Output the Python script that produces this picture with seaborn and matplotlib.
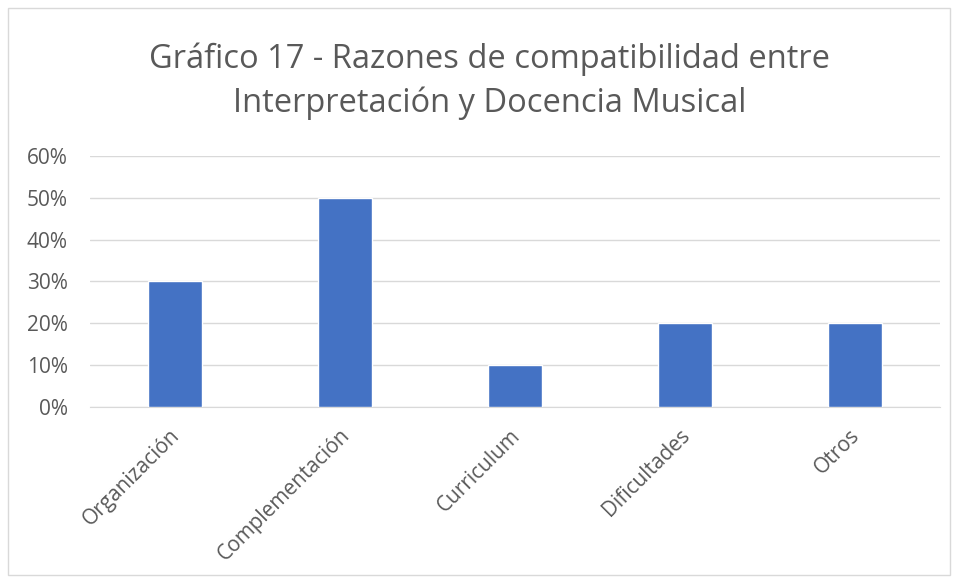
import matplotlib
matplotlib.use("Agg")
import matplotlib.pyplot as plt
import matplotlib.transforms as mtransforms
import seaborn as sns
import pandas as pd
from matplotlib.patches import Rectangle
from matplotlib.ticker import PercentFormatter

categorias = ["Organización", "Complementación", "Curriculum", "Dificultades", "Otros"]
porcentajes = [0.30, 0.50, 0.10, 0.20, 0.20]
titulo = "Gráfico 17 - Razones de compatibilidad entre\nInterpretación y Docencia Musical"

df = pd.DataFrame({"categoria": categorias, "valor": porcentajes})

sns.set_style("white")
plt.rcParams["font.family"] = ["Open Sans", "DejaVu Sans"]

fig = plt.figure(figsize=(9.58, 5.82), dpi=100)
ax = fig.add_axes([0.094, 0.3007, 0.887, 0.4313])

sns.barplot(data=df, x="categoria", y="valor", color="#4472C4",
            width=0.32, saturation=1, ax=ax, zorder=3)

ax.set_ylim(0, 0.6)
ax.set_yticks([0, 0.1, 0.2, 0.3, 0.4, 0.5, 0.6])
ax.yaxis.set_major_formatter(PercentFormatter(1.0, decimals=0))
ax.grid(axis="y", color="#D9D9D9", linewidth=1, zorder=0)
ax.set_xlabel("")
ax.set_ylabel("")
for s in ["top", "right", "left"]:
    ax.spines[s].set_visible(False)
ax.spines["bottom"].set_color("#D9D9D9")
ax.tick_params(axis="both", length=0, colors="#595959", labelsize=15)
ax.tick_params(axis="y", pad=16)
ax.tick_params(axis="x", pad=13)

# pequeño desplazamiento a la izquierda de las etiquetas giradas
shift = mtransforms.ScaledTranslation(-4 / 72, 0, fig.dpi_scale_trans)
for lbl in ax.get_xticklabels():
    lbl.set_rotation(45)
    lbl.set_horizontalalignment("right")
    lbl.set_rotation_mode("anchor")
    lbl.set_transform(lbl.get_transform() + shift)

fig.text(0.511, 0.861, titulo, ha="center", va="center", fontsize=23.5,
         color="#595959", linespacing=1.42)

fig.patches.append(Rectangle((0.008, 0.012), 0.984, 0.975, transform=fig.transFigure,
                             fill=False, edgecolor="#D9D9D9", linewidth=1))

fig.savefig("out.png", dpi=100)
